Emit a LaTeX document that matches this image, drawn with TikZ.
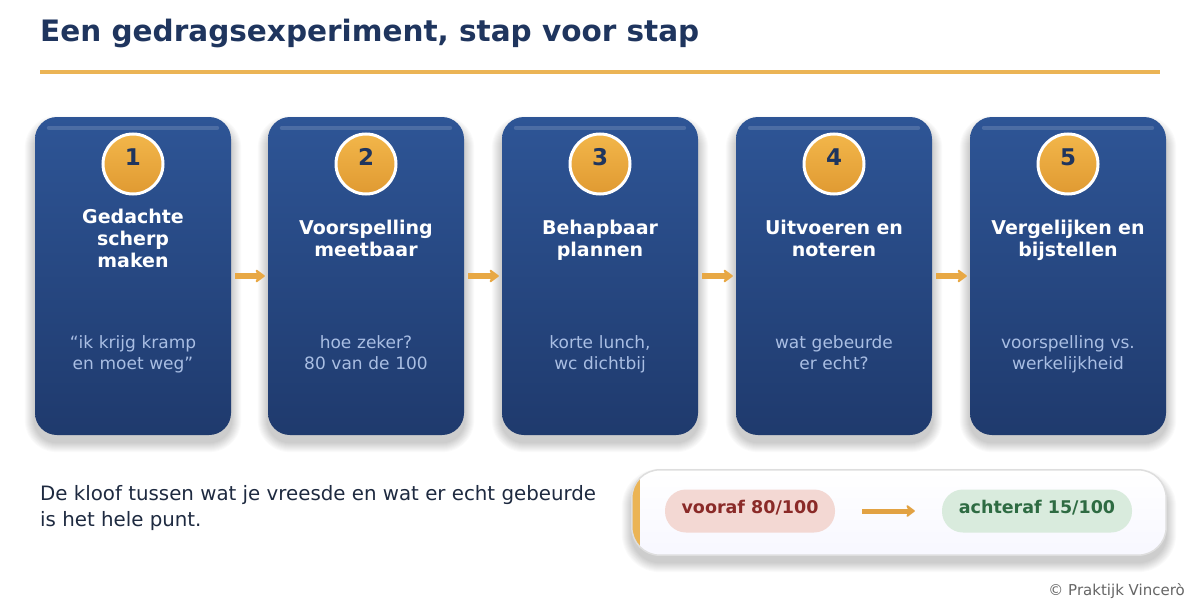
\documentclass[tikz,border=0pt]{standalone}
\usepackage{fontspec}
\setmainfont{DejaVu Sans}
\usetikzlibrary{arrows.meta,calc,backgrounds}

\definecolor{navy}{HTML}{1F355E}
\definecolor{accent}{HTML}{EBB455}
\definecolor{cardtop}{HTML}{2E5596}
\definecolor{cardbot}{HTML}{1F3A6D}
\definecolor{subtxt}{HTML}{A9BEE3}
\definecolor{badgetop}{HTML}{F2B64A}
\definecolor{badgebot}{HTML}{E09A32}
\definecolor{flowcol}{HTML}{E8A844}
\definecolor{redbg}{HTML}{F3D8D3}
\definecolor{redtx}{HTML}{8A2A28}
\definecolor{greenbg}{HTML}{D9EBDD}
\definecolor{greentx}{HTML}{2E6B42}
\definecolor{bodytxt}{HTML}{1E2A40}

% soft drop shadow behind a named node: node, corner radius
\newcommand\softshadow[2]{%
  \foreach \i in {1,...,10}{%
    \pgfmathsetmacro\rr{#2+\i}
    \fill[black, opacity=0.02, rounded corners=\rr pt]
      ($(#1.north west)+(-\i,-\i+9)$) rectangle ($(#1.south east)+(\i,\i+7)$);}}

\tikzset{
  card/.style={rounded corners=22pt, minimum width=196pt, minimum height=318pt,
    top color=cardtop, bottom color=cardbot, inner sep=0pt},
  topbar/.style={line width=4pt, white, opacity=0.15, line cap=round},
  badge/.style={circle, minimum size=60pt, inner sep=0pt, draw=white, line width=3pt,
    top color=badgetop, bottom color=badgebot, text=navy,
    font=\fontsize{23}{24}\selectfont\bfseries},
  steptitle/.style={text width=190pt, align=center, text=white,
    font=\fontsize{19}{22}\selectfont\bfseries,
    execute at begin node=\strut, execute at end node=\strut},
  stepnote/.style={text width=190pt, align=center, text=subtxt,
    font=\fontsize{17}{20.5}\selectfont,
    execute at begin node=\strut, execute at end node=\strut},
  flow/.style={line width=5.5pt, flowcol, -{Stealth[length=11pt,width=16pt,round]},
    shorten <=4pt, shorten >=3pt},
  pill/.style={rounded corners=21pt, minimum height=43pt, inner xsep=14pt,
    font=\fontsize{17.5}{20}\selectfont\bfseries}
}

\begin{document}
\begin{tikzpicture}[x=1pt, y=-1pt]
\useasboundingbox (0,0) rectangle (1200,610);
\begin{scope}[on background layer]
  \fill[white] (0,0) rectangle (1200,610);
\end{scope}

% title and rule
\node[anchor=base west, text=navy, inner sep=0pt,
  font=\fontsize{29.5}{32}\selectfont\bfseries] (title) at (40,42) {Een gedragsexperiment, stap voor stap};
\draw[accent, line width=4pt] (40,72) -- (1160,72);

% cards
\node[card] (c1) at (133,276) {};
\node[card] (c2) at (366,276) {};
\node[card] (c3) at (600,276) {};
\node[card] (c4) at (834,276) {};
\node[card] (c5) at (1068,276) {};

\begin{scope}[on background layer]
  \softshadow{c1}{22}
  \softshadow{c2}{22}
  \softshadow{c3}{22}
  \softshadow{c4}{22}
  \softshadow{c5}{22}
\end{scope}

\draw[topbar] ($(c1.north west)+(14,11)$) -- ($(c1.north east)+(-14,11)$);
\draw[topbar] ($(c2.north west)+(14,11)$) -- ($(c2.north east)+(-14,11)$);
\draw[topbar] ($(c3.north west)+(14,11)$) -- ($(c3.north east)+(-14,11)$);
\draw[topbar] ($(c4.north west)+(14,11)$) -- ($(c4.north east)+(-14,11)$);
\draw[topbar] ($(c5.north west)+(14,11)$) -- ($(c5.north east)+(-14,11)$);

\node[badge] (n1) at (133,164) {\raisebox{-1.5pt}[0pt][0pt]{1}};
\node[badge] (n2) at (366,164) {\raisebox{-1.5pt}[0pt][0pt]{2}};
\node[badge] (n3) at (600,164) {\raisebox{-1.5pt}[0pt][0pt]{3}};
\node[badge] (n4) at (834,164) {\raisebox{-1.5pt}[0pt][0pt]{4}};
\node[badge] (n5) at (1068,164) {\raisebox{-1.5pt}[0pt][0pt]{5}};

\node[steptitle] (t1) at (133,241) {Gedachte\\scherp\\maken};
\node[steptitle] (t2) at (366,241) {Voorspelling\\meetbaar};
\node[steptitle] (t3) at (600,241) {Behapbaar\\plannen};
\node[steptitle] (t4) at (834,241) {Uitvoeren en\\noteren};
\node[steptitle] (t5) at (1068,241) {Vergelijken en\\bijstellen};

\node[stepnote] (s1) at (133,355) {“ik krijg kramp\\en moet weg”};
\node[stepnote] (s2) at (366,355) {hoe zeker?\\80 van de 100};
\node[stepnote] (s3) at (600,355) {korte lunch,\\wc dichtbij};
\node[stepnote] (s4) at (834,355) {wat gebeurde\\er echt?};
\node[stepnote] (s5) at (1068,355) {voorspelling vs.\\werkelijkheid};

\draw[flow] (c1) -- (c2);
\draw[flow] (c2) -- (c3);
\draw[flow] (c3) -- (c4);
\draw[flow] (c4) -- (c5);

% closing remark
\node[anchor=base west, align=left, text=bodytxt, inner sep=0pt,
  font=\fontsize{19.8}{26}\selectfont] (remark) at (40,526)
  {De kloof tussen wat je vreesde en wat er echt gebeurde\\is het hele punt.};

% summary box
\node[rounded corners=28pt, minimum width=534pt, minimum height=85pt,
  top color=white, bottom color=blue!3] (sum) at (899,512.5) {};
\begin{scope}[on background layer]
  \softshadow{sum}{28}
\end{scope}
\begin{scope}
  \clip[rounded corners=28pt] (sum.north west) rectangle (sum.south east);
  \fill[accent] (sum.north west) rectangle ($(sum.south west)+(8,0)$);
\end{scope}
\draw[black!13, line width=1.5pt, rounded corners=28pt] (sum.north west) rectangle (sum.south east);

\node[pill, fill=redbg, text=redtx, minimum width=170pt] (before) at (750,511) {\raisebox{-2.4pt}[0pt][0pt]{vooraf 80/100}};
\node[pill, fill=greenbg, text=greentx, minimum width=190pt] (after) at (1037,511) {\raisebox{-2.4pt}[0pt][0pt]{achteraf 15/100}};
\draw[line width=5pt, flowcol!85!brown, -{Stealth[length=10pt,width=15pt,round]},
  shorten <=27pt, shorten >=27pt] (before) -- (after);

\node[anchor=base east, text=black!60, inner sep=0pt,
  font=\fontsize{15}{16}\selectfont] (copy) at (1185,595) {© Praktijk Vincerò};
\end{tikzpicture}
\end{document}
